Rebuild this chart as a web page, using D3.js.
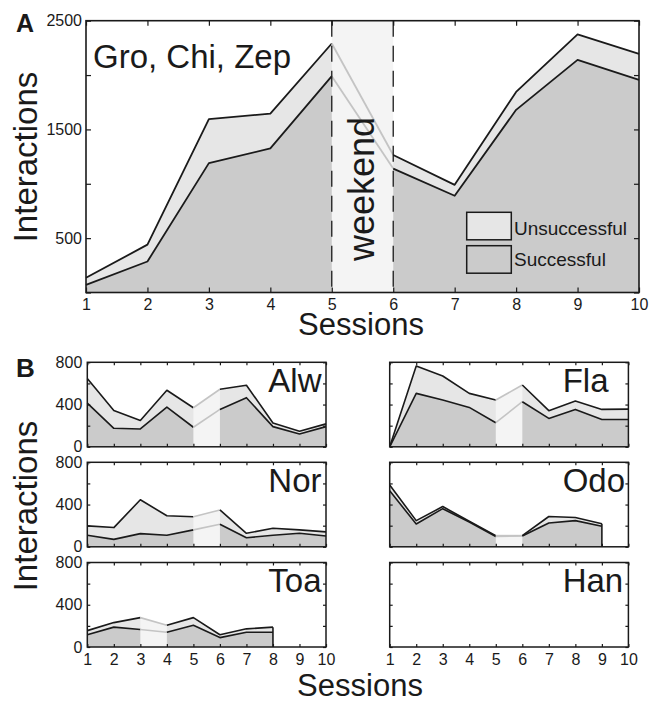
<!DOCTYPE html>
<html>
<head>
<meta charset="utf-8">
<script src="https://cdn.jsdelivr.net/npm/d3@7"></script>
<style>
  body { margin: 0; background: #fff; }
  text { font-family: "Liberation Sans", Arial, Helvetica, sans-serif; fill: #1a1a1a; }
</style>
</head>
<body>
<script>
// sessions shared by every panel
var sessions = [1, 2, 3, 4, 5, 6, 7, 8, 9, 10];

// panel A: Gro, Chi, Zep pooled
var totalA = [135, 440, 1595, 1645, 2290, 1265, 990, 1845, 2375, 2195];
var successA = [70, 285, 1190, 1325, 1990, 1140, 890, 1680, 2140, 1955];
var ticksA = [0, 500, 1000, 1500, 2000, 2500];
var labelsA = [500, 1500, 2500];

// panel B: single animals (total = successful + unsuccessful)
var alwTotal = [647, 344, 249, 535, 370, 545, 583, 226, 147, 217];
var alwSuccess = [414, 175, 169, 376, 185, 354, 465, 191, 121, 191];
var flaTotal = [0, 765, 670, 506, 443, 585, 342, 433, 354, 357];
var flaSuccess = [0, 506, 443, 373, 228, 427, 269, 354, 259, 259];
var norTotal = [198, 182, 445, 294, 285, 349, 128, 176, 160, 141];
var norSuccess = [109, 70, 125, 109, 160, 214, 86, 109, 128, 102];
var odoTotal = [585, 248, 381, 242, 106, 106, 287, 277, 219];
var odoSuccess = [530, 216, 361, 235, 97, 103, 226, 248, 194];
var toaTotal = [155, 231, 278, 205, 278, 116, 172, 188];
var toaSuccess = [116, 188, 165, 139, 205, 89, 139, 139];
var hanTotal = [];
var hanSuccess = [];
var ticksB = [0, 200, 400, 600, 800];
var labelsB = [0, 400, 800];

var succFill = "#cbcbcb", unsFill = "#e6e6e6", wkFill = "#f4f4f4", wkLine = "#c4c4c4", ink = "#1a1a1a";

var svg = d3.select("body").append("svg")
    .attr("width", 654)
    .attr("height", 703);

function drawStack(g, x, y, total, success, wk, fullBand, lw) {
    var pts = total.map(function(t, i) { return {s: sessions[i], t: t, u: success[i]}; });
    if (!pts.length) return;

    g.append("path")
        .attr("d", d3.area().x(d => x(d.s)).y0(y(0)).y1(d => y(d.u))(pts))
        .attr("fill", succFill);
    g.append("path")
        .attr("d", d3.area().x(d => x(d.s)).y0(d => y(d.u)).y1(d => y(d.t))(pts))
        .attr("fill", unsFill);

    var i0 = wk[0] - 1, i1 = wk[1] - 1;
    if (fullBand) {
        g.append("rect")
            .attr("x", x(wk[0])).attr("y", y.range()[1])
            .attr("width", x(wk[1]) - x(wk[0]))
            .attr("height", y.range()[0] - y.range()[1])
            .attr("fill", wkFill);
    } else {
        g.append("path")
            .attr("d", d3.area().x(d => x(d.s)).y0(y(0)).y1(d => y(d.t))(pts.slice(i0, i1 + 1)))
            .attr("fill", wkFill);
    }

    var runs = [
        {p: pts.slice(0, i0 + 1), c: ink},
        {p: pts.slice(i0, i1 + 1), c: wkLine},
        {p: pts.slice(i1), c: ink}
    ];
    runs.forEach(function(r) {
        ["t", "u"].forEach(function(k) {
            g.append("path")
                .attr("d", d3.line().x(d => x(d.s)).y(d => y(d[k]))(r.p))
                .attr("fill", "none")
                .attr("stroke", r.c)
                .attr("stroke-width", lw)
                .attr("stroke-linejoin", "round");
        });
    });

    var last = pts[pts.length - 1];
    if (last.s < 10) {
        g.append("line")
            .attr("x1", x(last.s)).attr("x2", x(last.s))
            .attr("y1", y(last.t)).attr("y2", y(0))
            .attr("stroke", ink).attr("stroke-width", lw);
    }
}

function frame(g, x, y, yTicks, yLabels, showY, showX, tick, fs, pad, lw) {
    var ax = [
        d3.axisBottom(x).tickValues(sessions).tickSize(-tick).tickPadding(pad[1])
            .tickFormat(showX ? d3.format("d") : ""),
        d3.axisTop(x).tickValues(sessions).tickSize(-tick).tickFormat(""),
        d3.axisLeft(y).tickValues(yTicks).tickSize(-tick).tickPadding(pad[0])
            .tickFormat(d => (showY && yLabels.indexOf(d) >= 0) ? d : ""),
        d3.axisRight(y).tickValues(yTicks).tickSize(-tick).tickFormat("")
    ];
    var pos = [
        [0, y.range()[0]], [0, y.range()[1]], [x.range()[0], 0], [x.range()[1], 0]
    ];
    ax.forEach(function(a, i) {
        var ga = g.append("g")
            .attr("transform", "translate(" + pos[i][0] + "," + pos[i][1] + ")")
            .call(a);
        ga.select(".domain").remove();
        ga.selectAll("line").attr("stroke", ink).attr("stroke-width", 1.2);
        ga.selectAll("text")
            .attr("font-size", fs)
            .attr("font-family", "Liberation Sans, Arial, sans-serif")
            .attr("fill", "#222");
    });
    g.append("rect")
        .attr("x", x.range()[0]).attr("y", y.range()[1])
        .attr("width", x.range()[1] - x.range()[0])
        .attr("height", y.range()[0] - y.range()[1])
        .attr("fill", "none")
        .attr("stroke", ink)
        .attr("stroke-width", lw);
}

// ---------- panel A ----------
var gA = svg.append("g");
var xA = d3.scaleLinear().domain([1, 10]).range([86, 639]);
var yA = d3.scaleLinear().domain([0, 2500]).range([292.5, 20.7]);

drawStack(gA, xA, yA, totalA, successA, [5, 6], true, 1.8);

[5, 6].forEach(function(s) {
    gA.append("line")
        .attr("x1", xA(s)).attr("x2", xA(s))
        .attr("y1", yA(2500)).attr("y2", yA(0))
        .attr("stroke", ink)
        .attr("stroke-width", 1.3)
        .attr("stroke-dasharray", "16,9");
});

frame(gA, xA, yA, ticksA, labelsA, true, true, 5, 16, [4, 6], 1.6);

gA.append("text")
    .attr("x", 361).attr("y", 189)
    .attr("transform", "rotate(-90,361,189)")
    .attr("text-anchor", "middle")
    .attr("dy", "0.35em")
    .attr("font-size", 36)
    .text("weekend");

gA.append("text").attr("x", 93).attr("y", 68).attr("font-size", 33).text("Gro, Chi, Zep");

// legend
var legend = [["Unsuccessful", unsFill, 212.3, 235], ["Successful", succFill, 245.7, 266]];
legend.forEach(function(l) {
    gA.append("rect")
        .attr("x", 466.7).attr("y", l[2])
        .attr("width", 44.6).attr("height", 27.5)
        .attr("fill", l[1]).attr("stroke", ink).attr("stroke-width", 1.5);
    gA.append("text").attr("x", 514).attr("y", l[3]).attr("font-size", 19).text(l[0]);
});

svg.append("text").attr("x", 16).attr("y", 32)
    .attr("font-size", 25).attr("font-weight", "bold").text("A");
svg.append("text").attr("x", 37).attr("y", 157)
    .attr("transform", "rotate(-90,37,157)")
    .attr("text-anchor", "middle").attr("font-size", 33).text("Interactions");
svg.append("text").attr("x", 361).attr("y", 335)
    .attr("text-anchor", "middle").attr("font-size", 31).text("Sessions");

// ---------- panel B ----------
var animals = ["Alw", "Fla", "Nor", "Odo", "Toa", "Han"];
var bTotals = [alwTotal, flaTotal, norTotal, odoTotal, toaTotal, hanTotal];
var bSuccess = [alwSuccess, flaSuccess, norSuccess, odoSuccess, toaSuccess, hanSuccess];
var bWeekend = [[5, 6], [5, 6], [5, 6], [5, 6], [3, 4], [5, 6]];

var colLeft = [87.3, 389.7], colW = 238.7;
var rowTop = [362.3, 462.3, 562.5], rowH = 84.5;

animals.forEach(function(name, i) {
    var c = i % 2, r = Math.floor(i / 2);
    var g = svg.append("g");
    var x = d3.scaleLinear().domain([1, 10]).range([colLeft[c], colLeft[c] + colW]);
    var y = d3.scaleLinear().domain([0, 800]).range([rowTop[r] + rowH, rowTop[r]]);
    drawStack(g, x, y, bTotals[i], bSuccess[i], bWeekend[i], false, 1.6);
    frame(g, x, y, ticksB, labelsB, c === 0, r === 2, 3, 16, [5, 6.5], 1.5);
    g.append("text")
        .attr("x", colLeft[c] + (c === 0 ? 181 : 173))
        .attr("y", rowTop[r] + 29.5)
        .attr("font-size", 33)
        .text(name);
});

svg.append("text").attr("x", 16).attr("y", 377)
    .attr("font-size", 26).attr("font-weight", "bold").text("B");
svg.append("text").attr("x", 37).attr("y", 506)
    .attr("transform", "rotate(-90,37,506)")
    .attr("text-anchor", "middle").attr("font-size", 33).text("Interactions");
svg.append("text").attr("x", 360).attr("y", 696)
    .attr("text-anchor", "middle").attr("font-size", 31).text("Sessions");
</script>
</body>
</html>
